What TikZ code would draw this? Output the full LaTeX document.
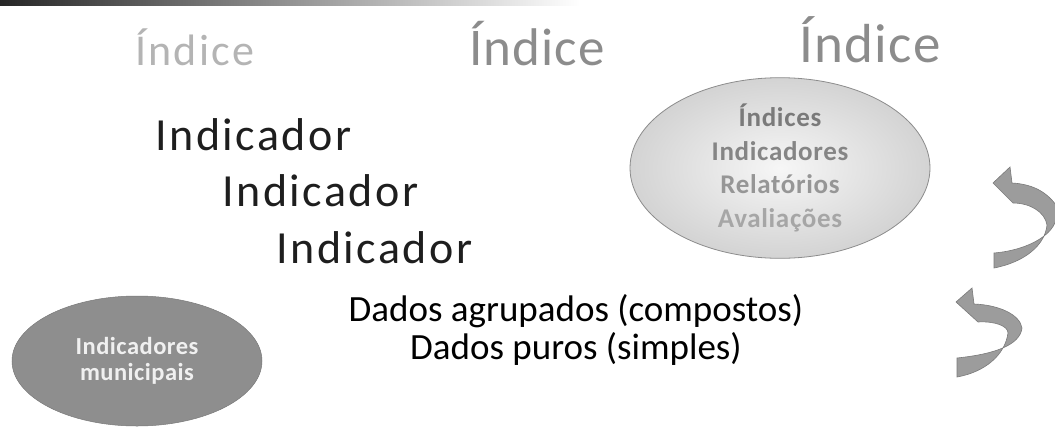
\documentclass[tikz,border=0pt]{standalone}
\usepackage{fontspec}
\setmainfont{Carlito}
\usetikzlibrary{arrows.meta,shapes.geometric}
\definecolor{idxlight}{HTML}{B4B4B4}
\definecolor{idxmid}{HTML}{8C8C8C}
\definecolor{inkdark}{HTML}{1E1E1E}
\definecolor{arrowfill}{HTML}{9C9C9C}
\definecolor{arrowline}{HTML}{7A7A7A}
\definecolor{ellfill}{HTML}{8E8E8E}
\definecolor{ellpale}{HTML}{E2E2E2}
\definecolor{ellrim}{HTML}{8C8C8C}
\tikzset{
  title1/.style={anchor=base west, inner sep=0pt, text=idxlight,
    font=\fontsize{44}{52}\selectfont\addfontfeature{LetterSpace=5}},
  title2/.style={anchor=base west, inner sep=0pt, text=idxmid,
    font=\fontsize{53}{62}\selectfont\addfontfeature{LetterSpace=2}},
  title3/.style={anchor=base west, inner sep=0pt, text=idxmid,
    font=\fontsize{55}{64}\selectfont\addfontfeature{LetterSpace=2.5}},
  indrow/.style={anchor=base west, inner sep=0pt, text=inkdark,
    font=\fontsize{46}{52}\selectfont\addfontfeature{LetterSpace=5.5}},
  dados/.style={anchor=base, inner sep=0pt, text=black, align=center,
    font=\fontsize{37}{38}\selectfont},
  paleoval/.style={ellipse, draw=ellrim, line width=0.8pt, inner sep=0pt,
    inner color=white!70!ellpale, outer color=ellpale!85!gray,
    minimum width=300pt, minimum height=170pt, align=center,
    font=\bfseries\fontsize{27}{33.5}\selectfont\addfontfeature{LetterSpace=2.5}},
  darkoval/.style={ellipse, fill=ellfill, draw=ellfill!85!black, line width=0.5pt,
    inner sep=0pt, minimum width=250pt, minimum height=130pt, align=center,
    text=white!94!black,
    font=\bfseries\fontsize{24.5}{26}\selectfont\addfontfeature{LetterSpace=2}},
  bentarrow/.style={draw=arrowline, line width=0.6pt, fill=arrowfill},
}
\begin{document}
\begin{tikzpicture}[x=1pt,y=-1pt]
\useasboundingbox (0,0) rectangle (1055,426);
% scan strip at the top
\shade[left color=black!85, right color=white] (0,0) rectangle (580,5);

% Indice titles
\node[title1] (i1) at (135,65) {Índice};
\node[title2] (i2) at (469,65) {Índice};
\node[title3] (i3) at (799,62) {Índice};

% Indicador rows
\node[indrow] (r1) at (155,150) {Indicador};
\node[indrow] (r2) at (222,206) {Indicador};
\node[indrow] (r3) at (276,263) {Indicador};

% Ellipses
\node[paleoval] (e1) at (780,168) {%
  \textcolor[HTML]{7A7A7A}{Índices}\\
  \textcolor[HTML]{858585}{Indicadores}\\
  \textcolor[HTML]{969696}{Relatórios}\\
  \textcolor[HTML]{A6A6A6}{Avaliações}};
\node[darkoval] (e2) at (137,361) {Indicadores\\municipais};

% Dados
\node[dados] (d1) at (576,321) {Dados agrupados (compostos)};
\node[dados] (d2) at (576,359) {Dados puros (simples)};

% curved arrows
\coordinate (ua) at (993,183);
\coordinate (la) at (956,302);
\path[bentarrow]
  (994,253) .. controls (1030,250) and (1060,232) .. (1056,212)
  -- (1056,205) .. controls (1045,190) and (1030,184) .. (1012,183)
  -- (1010,167) -- (ua) -- (1013,203)
  .. controls (1030,203) and (1045,212) .. (1047,225)
  .. controls (1045,245) and (1025,262) .. (994,268) -- cycle;
\path[bentarrow]
  (957,358) .. controls (995,354) and (1020,345) .. (1022,328)
  .. controls (1020,315) and (1000,305) .. (974,304)
  -- (972,288) -- (la) -- (978,322)
  .. controls (995,321) and (1008,326) .. (1008,333)
  .. controls (1005,355) and (985,372) .. (957,377) -- cycle;
\end{tikzpicture}
\end{document}
